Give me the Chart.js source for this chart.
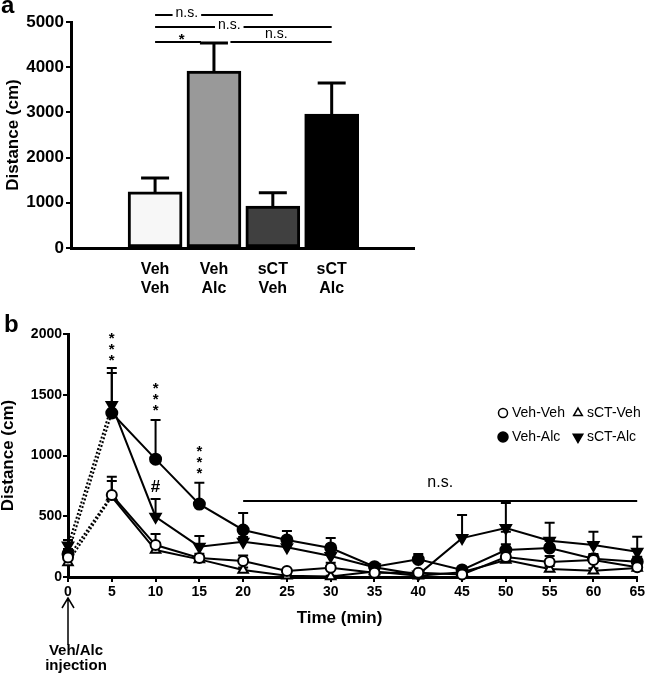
<!DOCTYPE html>
<html>
<head>
<meta charset="utf-8">
<script src="https://cdn.jsdelivr.net/npm/chart.js@4.4.1/dist/chart.umd.min.js"></script>
<style>
  body { margin: 0; background: #fff; }
  #wrap { position: relative; width: 647px; height: 673px; }
  canvas { position: absolute; left: 0; }
  #barChart { top: 0; }
  #lineChart { top: 300px; }
</style>
</head>
<body>
<div id="wrap">
  <canvas id="barChart" width="647" height="300"></canvas>
  <canvas id="lineChart" width="647" height="373"></canvas>
</div>
<script>
const FONT = "'Liberation Sans', Arial, Helvetica, sans-serif";
Chart.defaults.font.family = FONT;
Chart.defaults.color = '#000';

// ---- panel a: total distance per group ----
const barGroups = [['Veh', 'Veh'], ['Veh', 'Alc'], ['sCT', 'Veh'], ['sCT', 'Alc']];
const barMeans = [1240, 3915, 930, 2965];
const barSem = [310, 620, 290, 685];
const barFills = ['#f7f7f7', '#999999', '#404040', '#000000'];

// significance brackets: from group, to group, height (cm), label, label x, label on the line?
const sigFrom = [1, 1, 1, 2.28];
const sigTo = [3, 4, 1.78, 4];
const sigY = [5155, 4889, 4558, 4558];
const sigText = ['n.s.', 'n.s.', '*', 'n.s.'];
const sigTextX = [1.54, 2.26, 1.45, 3.06];
const sigInline = [true, true, false, false];

// ---- panel b: distance per 5 min bin ----
const times = [0, 5, 10, 15, 20, 25, 30, 35, 40, 45, 50, 55, 60, 65];
const vehVeh = [160, 675, 263, 156, 132, 49, 77, 35, 35, 20, 165, 123, 140, 80];
const vehVehErr = [40, 150, 90, 35, 45, 15, 40, 10, 10, 10, 105, 50, 40, 25];
const vehAlc = [190, 1350, 970, 600, 387, 305, 239, 85, 145, 58, 222, 239, 150, 126];
const vehAlcErr = [40, 330, 322, 176, 140, 73, 81, 15, 45, 15, 150, 60, 40, 40];
const sctVeh = [120, 660, 222, 145, 58, 10, 5, 45, 10, 40, 140, 66, 52, 75];
const sctVehErr = [30, 130, 60, 30, 20, 5, 5, 10, 5, 10, 40, 25, 20, 25];
const sctAlc = [260, 1415, 496, 250, 290, 245, 173, 80, 20, 320, 403, 299, 263, 208];
const sctAlcErr = [45, 305, 146, 87, 40, 60, 60, 15, 5, 190, 206, 148, 110, 124];

const starStacks = [[5, 1990], [10, 1580], [15, 1060]];
const hashMark = [10, 741];
const nsSpan = [20, 65, 625];
const nsLabel = [42.5, 774];

const bold = (size) => ({ family: FONT, size: size, weight: 'bold' });
const plain = (v) => String(v);

const barExtras = {
  id: 'barExtras',
  afterDraw(chart) {
    const { ctx, scales: { x, y } } = chart;
    ctx.save();
    ctx.strokeStyle = '#000';
    ctx.fillStyle = '#000';
    // error bars
    ctx.lineWidth = 3;
    barMeans.forEach((m, i) => {
      const px = x.getPixelForValue(i + 1);
      const top = y.getPixelForValue(m);
      const cap = y.getPixelForValue(m + barSem[i]);
      ctx.beginPath();
      ctx.moveTo(px, top);
      ctx.lineTo(px, cap);
      ctx.moveTo(px - 14, cap);
      ctx.lineTo(px + 14, cap);
      ctx.stroke();
    });
    // significance lines
    ctx.lineWidth = 2;
    sigFrom.forEach((f, i) => {
      const py = y.getPixelForValue(sigY[i]);
      ctx.beginPath();
      ctx.moveTo(x.getPixelForValue(f), py);
      ctx.lineTo(x.getPixelForValue(sigTo[i]), py);
      ctx.stroke();
      const tx = x.getPixelForValue(sigTextX[i]);
      const star = sigText[i] === '*';
      ctx.font = star ? 'bold 15px ' + FONT : '14px ' + FONT;
      ctx.textAlign = 'center';
      ctx.textBaseline = 'alphabetic';
      if (sigInline[i]) {
        const w = ctx.measureText(sigText[i]).width;
        ctx.fillStyle = '#fff';
        ctx.fillRect(tx - w / 2 - 3, py - 3, w + 6, 6);
        ctx.fillStyle = '#000';
        ctx.fillText(sigText[i], tx, py + 2);
      } else {
        ctx.fillText(sigText[i], tx, star ? py + 2 : py - 4);
      }
    });
    ctx.font = 'bold 24px ' + FONT;
    ctx.textAlign = 'left';
    ctx.textBaseline = 'alphabetic';
    ctx.fillText('a', 1, 13);
    ctx.restore();
  }
};

new Chart(document.getElementById('barChart'), {
  type: 'bar',
  data: {
    datasets: [{
      data: barMeans.map((m, i) => ({ x: i + 1, y: m })),
      backgroundColor: barFills,
      borderColor: '#000',
      borderWidth: 3,
      borderSkipped: false,
      barThickness: 54
    }]
  },
  options: {
    responsive: false,
    animation: false,
    devicePixelRatio: 1,
    layout: { padding: { top: 22, right: 233, bottom: 0, left: 0 } },
    plugins: { legend: { display: false }, tooltip: { enabled: false } },
    scales: {
      x: {
        type: 'linear',
        min: 0.3,
        max: 4.67,
        afterBuildTicks: (s) => { s.ticks = barGroups.map((g, i) => ({ value: i + 1 })); },
        afterFit: (s) => { s.height = 52; },
        ticks: {
          callback: (v) => barGroups[v - 1],
          font: bold(16),
          padding: 4,
          maxRotation: 0,
          autoSkip: false
        },
        grid: { display: false },
        border: { color: '#000', width: 3 }
      },
      y: {
        min: 0,
        max: 5000,
        afterFit: (s) => { s.width = 71; },
        ticks: { stepSize: 1000, font: bold(17), padding: 2, callback: plain },
        grid: { drawOnChartArea: false, tickLength: 5, color: '#000', lineWidth: 2 },
        border: { color: '#000', width: 3 },
        title: { display: true, text: 'Distance (cm)', font: bold(17), padding: { top: 3, bottom: 0 } }
      }
    }
  },
  plugins: [barExtras]
});

const lineErrors = [vehVehErr, sctVehErr, vehAlcErr, sctAlcErr];

const lineExtras = {
  id: 'lineExtras',
  beforeDatasetsDraw(chart) {
    const { ctx, scales: { x, y } } = chart;
    ctx.save();
    ctx.strokeStyle = '#000';
    ctx.lineWidth = 2;
    chart.data.datasets.forEach((ds, d) => {
      ds.data.forEach((p, i) => {
        const px = x.getPixelForValue(p.x);
        const y0 = y.getPixelForValue(p.y);
        const y1 = y.getPixelForValue(p.y + lineErrors[d][i]);
        ctx.beginPath();
        ctx.moveTo(px, y0);
        ctx.lineTo(px, y1);
        ctx.moveTo(px - 5, y1);
        ctx.lineTo(px + 5, y1);
        ctx.stroke();
      });
    });
    ctx.restore();
  },
  afterDraw(chart) {
    const { ctx, scales: { x, y } } = chart;
    ctx.save();
    ctx.fillStyle = '#000';
    ctx.strokeStyle = '#000';
    ctx.textAlign = 'center';
    ctx.textBaseline = 'middle';
    // stars
    ctx.font = 'bold 15px ' + FONT;
    starStacks.forEach(([t, v]) => {
      const px = x.getPixelForValue(t);
      const py = y.getPixelForValue(v);
      for (let k = 0; k < 3; k++) ctx.fillText('*', px, py + 4 + k * 11);
    });
    ctx.font = 'bold 17px ' + FONT;
    ctx.fillText('#', x.getPixelForValue(hashMark[0]), y.getPixelForValue(hashMark[1]));
    // n.s. line
    ctx.lineWidth = 2;
    ctx.beginPath();
    ctx.moveTo(x.getPixelForValue(nsSpan[0]), y.getPixelForValue(nsSpan[2]));
    ctx.lineTo(x.getPixelForValue(nsSpan[1]), y.getPixelForValue(nsSpan[2]));
    ctx.stroke();
    ctx.font = '16px ' + FONT;
    ctx.fillText('n.s.', x.getPixelForValue(nsLabel[0]), y.getPixelForValue(nsLabel[1]));
    // x title
    ctx.font = 'bold 17px ' + FONT;
    ctx.fillText('Time (min)', x.getPixelForValue(31), 318);
    // injection arrow
    const ax = x.getPixelForValue(0);
    ctx.lineWidth = 1.5;
    ctx.beginPath();
    ctx.moveTo(ax, 345);
    ctx.lineTo(ax, 298);
    ctx.moveTo(ax - 6, 308);
    ctx.lineTo(ax, 298);
    ctx.lineTo(ax + 6, 308);
    ctx.stroke();
    ctx.font = 'bold 15px ' + FONT;
    ctx.fillText('Veh/Alc', ax + 8, 351);
    ctx.fillText('injection', ax + 8, 366);
    // legend
    ctx.font = '14px ' + FONT;
    ctx.textAlign = 'left';
    const legendPos = [[503, 113], [578, 113], [503, 137], [578, 137]];
    chart.data.datasets.forEach((ds, d) => {
      const [lx, ly] = legendPos[d];
      ctx.fillStyle = ds.pointBackgroundColor;
      ctx.strokeStyle = '#000';
      Chart.helpers.drawPoint(ctx, {
        pointStyle: ds.pointStyle,
        radius: ds.pointRadius - 0.5,
        rotation: ds.pointRotation || 0,
        borderWidth: ds.pointBorderWidth
      }, lx, ly);
      ctx.fillStyle = '#000';
      ctx.fillText(ds.label, lx + 9, ly);
    });
    ctx.font = 'bold 24px ' + FONT;
    ctx.textBaseline = 'alphabetic';
    ctx.fillText('b', 4, 32);
    ctx.restore();
  }
};

const dotted = { borderDash: (c) => (c.p0DataIndex === 0 ? [2, 2] : undefined) };
const series = (label, vals, style, fill, radius, rot) => ({
  label: label,
  data: vals.map((v, i) => ({ x: times[i], y: v })),
  borderColor: '#000',
  borderWidth: 2,
  pointStyle: style,
  pointRadius: radius,
  pointRotation: rot,
  pointBackgroundColor: fill,
  pointBorderColor: '#000',
  pointBorderWidth: 2,
  segment: dotted,
  clip: false
});

new Chart(document.getElementById('lineChart'), {
  type: 'line',
  data: {
    datasets: [
      series('Veh-Veh', vehVeh, 'circle', '#fff', 5, 0),
      series('sCT-Veh', sctVeh, 'triangle', '#fff', 5.5, 0),
      series('Veh-Alc', vehAlc, 'circle', '#000', 5.5, 0),
      series('sCT-Alc', sctAlc, 'triangle', '#000', 6, 180)
    ]
  },
  options: {
    responsive: false,
    animation: false,
    devicePixelRatio: 1,
    layout: { padding: { top: 34, right: 7, bottom: 45, left: 0 } },
    plugins: { legend: { display: false }, tooltip: { enabled: false } },
    scales: {
      x: {
        type: 'linear',
        min: 0,
        max: 65,
        afterFit: (s) => { s.height = 51; },
        ticks: { stepSize: 5, font: bold(14), padding: 2, maxRotation: 0, autoSkip: false },
        grid: { drawOnChartArea: false, tickLength: 5, color: '#000', lineWidth: 2 },
        border: { color: '#000', width: 3 }
      },
      y: {
        min: 0,
        max: 2000,
        afterFit: (s) => { s.width = 68; },
        ticks: { stepSize: 500, font: bold(14), padding: 1, callback: plain },
        grid: { drawOnChartArea: false, tickLength: 5, color: '#000', lineWidth: 2 },
        border: { color: '#000', width: 3 },
        title: { display: true, text: 'Distance (cm)', font: bold(17), padding: { top: -2, bottom: 0 } }
      }
    }
  },
  plugins: [lineExtras]
});
</script>
</body>
</html>
